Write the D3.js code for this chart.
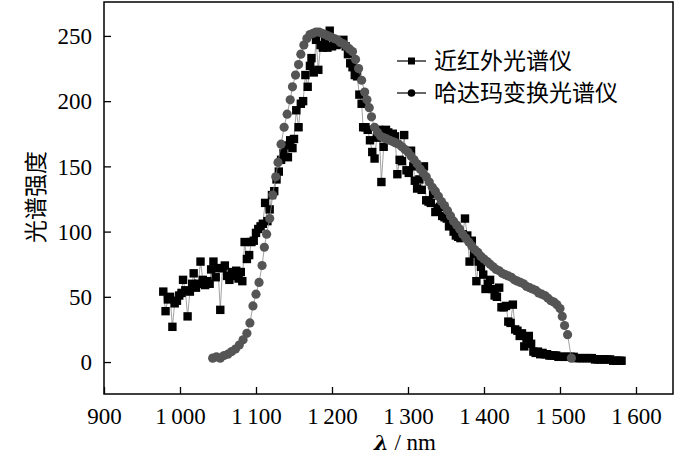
<!DOCTYPE html>
<html><head><meta charset="utf-8">
<script src="https://cdn.jsdelivr.net/npm/d3@7"></script>
<style>body{margin:0;background:#fff}svg{display:block}</style>
</head><body>
<svg id="c" width="700" height="463"></svg>
<script>
// NIR spectrometer (squares)
const nirX = [978,981,984,987,990,993,996,999,1002,1004,1007,1010,1013,1016,1018,1021,1024,1027,1030,1033,1036,1039,1041,1044,1047,1050,1053,1056,1059,1062,1065,1068,1071,1074,1077,1080,1082,1085,1088,1091,1094,1097,1100,1103,1106,1109,1112,1115,1118,1121,1124,1127,1130,1133,1136,1139,1142,1145,1148,1150,1153,1156,1159,1162,1165,1168,1171,1173,1176,1179,1182,1185,1188,1191,1194,1197,1200,1203,1206,1209,1212,1215,1218,1221,1224,1227,1230,1233,1236,1239,1241,1244,1247,1250,1253,1256,1259,1262,1265,1268,1271,1274,1277,1280,1283,1286,1289,1292,1295,1298,1301,1304,1307,1309,1312,1315,1318,1321,1324,1327,1330,1333,1336,1339,1342,1345,1348,1351,1354,1357,1360,1363,1366,1369,1372,1375,1378,1381,1384,1387,1390,1393,1396,1399,1402,1405,1408,1411,1414,1417,1420,1423,1426,1429,1432,1435,1438,1441,1444,1447,1450,1453,1456,1459,1462,1465,1468,1471,1474,1477,1480,1483,1486,1489,1492,1495,1498,1502,1506,1510,1514,1518,1522,1526,1530,1534,1538,1542,1546,1550,1554,1558,1562,1566,1570,1574,1578,1581];
const nirY = [54,39,48,50,27,45,47,51,53,63,55,35,54,60,68,57,60,77,63,59,62,60,71,77,65,72,40,72,74,66,63,69,66,70,64,69,62,92,79,82,92,93,99,102,104,106,122,108,117,128,131,140,146,155,160,166,157,170,164,171,193,180,198,200,220,211,227,233,222,247,224,243,241,246,241,254,242,246,243,244,245,247,242,236,229,226,220,219,205,198,180,180,178,170,161,156,172,178,138,165,178,176,174,175,173,144,155,154,174,147,145,162,150,139,133,140,132,150,124,123,122,129,115,118,119,112,111,110,104,108,100,97,96,95,98,110,97,77,93,83,62,77,73,67,56,60,63,56,51,50,57,42,42,43,31,30,44,25,24,20,22,12,18,20,14,8,7,8,6,7,6,6,5,5,5,5,4,4,4,4,4,4,3,3,3,3,3,3,2,2,2,2,2,2,1,1,1,1];
// Hadamard transform spectrometer (circles)
const hadX = [1043,1048,1053,1058,1063,1068,1073,1078,1083,1088,1092,1096,1100,1104,1108,1111,1114,1118,1122,1126,1129,1133,1137,1141,1145,1148,1152,1156,1159,1163,1167,1171,1175,1179,1183,1187,1191,1195,1199,1203,1207,1211,1215,1219,1223,1227,1231,1235,1239,1243,1246,1249,1252,1256,1260,1264,1268,1272,1276,1280,1284,1288,1292,1296,1300,1304,1308,1312,1316,1320,1324,1328,1332,1336,1340,1344,1348,1352,1356,1360,1364,1368,1372,1376,1380,1384,1388,1392,1396,1400,1404,1408,1412,1416,1420,1424,1428,1432,1436,1440,1444,1448,1452,1456,1460,1464,1468,1472,1476,1480,1484,1488,1492,1496,1500,1503,1506,1510,1515];
const hadY = [3,4,3,5,6,8,10,13,17,22,30,43,52,61,74,88,98,110,128,142,153,167,180,190,201,211,220,228,236,243,248,251,252,253,253,252,251,250,249,248,247,245,244,242,240,238,232,225,216,207,201,195,188,180,176,173,172,171,170,169,168,167,165,163,161,158,155,152,148,145,142,138,134,131,127,123,120,116,112,108,105,102,98,95,92,89,86,84,81,79,77,75,73,71,70,68,67,66,65,63,62,61,60,58,57,56,55,53,52,51,49,47,46,44,41,35,28,21,3];
const xTicks = [900,1000,1100,1200,1300,1400,1500,1600];
const yTicks = [0,50,100,150,200,250];
const seriesNames = ["近红外光谱仪","哈达玛变换光谱仪"];

const svg = d3.select("#c");
const L=104, R=673, T=2, B=394;
const x = d3.scaleLinear().domain([900,1648.7]).range([L,R]);
const y = d3.scaleLinear().domain([-24.5,276]).range([B,T]);
const serif = "Liberation Serif";
const cjk = "Noto Sans CJK SC";

const fmt = d => d>=1000 ? Math.floor(d/1000)+"\u2009"+String(d%1000).padStart(3,"0") : String(d);

const gx = svg.append("g").attr("transform",`translate(0,${B})`)
  .call(d3.axisBottom(x).tickValues(xTicks).tickSize(-7).tickPadding(14).tickFormat(fmt));
const gy = svg.append("g").attr("transform",`translate(${L},0)`)
  .call(d3.axisLeft(y).tickValues(yTicks).tickSize(-7).tickPadding(12));
[gx,gy].forEach(g=>{
  g.attr("font-family",serif).attr("font-size",23);
  g.select(".domain").remove();
  g.selectAll(".tick line").attr("stroke","#000").attr("stroke-width",1.3);
  g.selectAll(".tick text").attr("font-family",serif).attr("font-size",23).attr("fill","#000");
});
gy.selectAll(".tick text").attr("dy","0.34em");

const nir = nirX.map((v,i)=>[v,nirY[i]]);
const had = hadX.map((v,i)=>[v,hadY[i]]);
const line = d3.line().x(d=>x(d[0])).y(d=>y(d[1]));

svg.append("path").attr("d",line(nir)).attr("fill","none").attr("stroke","#8a8a8a").attr("stroke-width",0.8);
svg.append("g").selectAll("rect").data(nir).join("rect")
  .attr("x",d=>x(d[0])-4.2).attr("y",d=>y(d[1])-4.2).attr("width",8.4).attr("height",8.4).attr("fill","#000");
svg.append("path").attr("d",line(had)).attr("fill","none").attr("stroke","#8a8a8a").attr("stroke-width",0.8);
svg.append("g").selectAll("circle").data(had).join("circle")
  .attr("cx",d=>x(d[0])).attr("cy",d=>y(d[1])).attr("r",4.6).attr("fill","#555");

// frame
svg.append("rect").attr("x",L).attr("y",T).attr("width",R-L).attr("height",B-T)
  .attr("fill","none").attr("stroke","#000").attr("stroke-width",1.5);

// legend
const lg = svg.append("g");
[0,1].forEach(i=>{
  const cy = 61 + i*32;
  lg.append("line").attr("x1",397).attr("x2",426).attr("y1",cy).attr("y2",cy).attr("stroke","#000").attr("stroke-width",1.2);
  if(i===0) lg.append("rect").attr("x",411.5-3.5).attr("y",cy-3.5).attr("width",7).attr("height",7).attr("fill","#000");
  else lg.append("circle").attr("cx",411.5).attr("cy",cy).attr("r",3.8).attr("fill","#000");
  lg.append("text").attr("x",434).attr("y",cy).attr("dy","0.36em").attr("font-family",cjk).attr("font-size",23).attr("fill","#000").text(seriesNames[i]);
});

// axis titles
svg.append("text").attr("transform","translate(44,197) rotate(-90)").attr("text-anchor","middle")
  .attr("font-family",cjk).attr("font-size",23).attr("fill","#000").text("光谱强度");
const xt = svg.append("text").attr("x",405).attr("y",450).attr("text-anchor","middle")
  .attr("font-family",serif).attr("font-size",23).attr("fill","#000");
xt.append("tspan").attr("font-family","DejaVu Serif").attr("font-style","italic").attr("font-weight","bold").attr("font-size",21).text("λ");
xt.append("tspan").text(" / nm");
</script>
</body></html>
